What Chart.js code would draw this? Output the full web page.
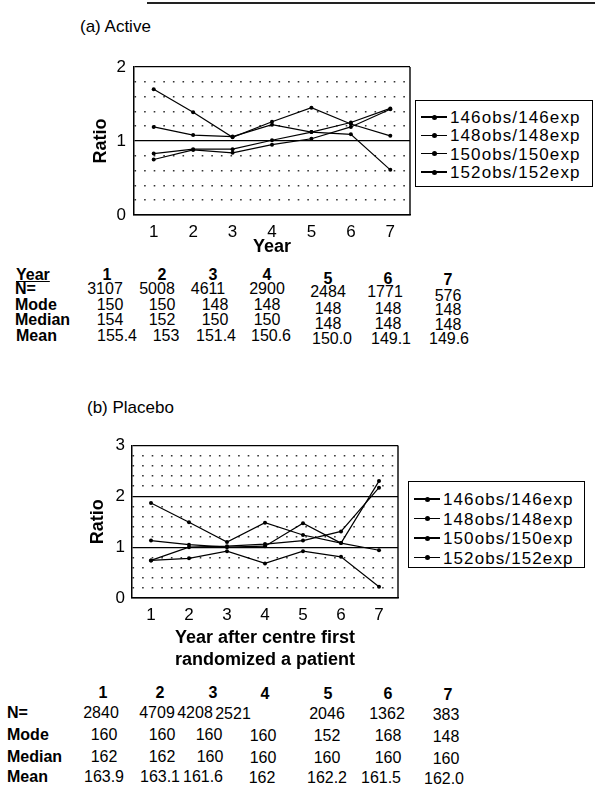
<!DOCTYPE html>
<html>
<head>
<meta charset="utf-8">
<script src="https://cdn.jsdelivr.net/npm/chart.js@4.4.1/dist/chart.umd.min.js"></script>
<style>
  html, body { margin: 0; padding: 0; }
  body { width: 595px; height: 799px; position: relative; background: #fff; overflow: hidden;
         font-family: "Liberation Sans", Arial, Helvetica, sans-serif; color: #000; }
  .t { position: absolute; white-space: nowrap; line-height: 1; }
  canvas { position: absolute; }
  .leg { position: absolute; border: 1.3px solid #000; box-sizing: border-box; background: #fff; }
  .legtxt { position: absolute; white-space: nowrap; line-height: 1; font-size: 17px; letter-spacing: 1.1px; transform: translateY(-50%); }
  .legline { position: absolute; height: 1.4px; background: #000; }
  .legdot { position: absolute; width: 5px; height: 5px; border-radius: 50%; background: #000; }
</style>
</head>
<body>
<div style="position:absolute;left:147px;top:2px;width:448px;height:2px;background:#222"></div>
<div class="t" style="left:80px;top:26px;font-size:17px;transform:translateY(-50%)">(a) Active</div>
<div class="t" style="left:87px;top:407px;font-size:17px;transform:translateY(-50%)">(b) Placebo</div>
<canvas id="chartA" width="360" height="210" style="left:60px;top:50px"></canvas>
<canvas id="chartB" width="350" height="241" style="left:60px;top:430px"></canvas>
<div id="legA" class="leg" style="left:415px;top:100px;width:178px;height:87px"></div>
<div id="legB" class="leg" style="left:408px;top:481px;width:177px;height:87px"></div>
<div id="tables"></div>
<script>
// ---------------- DATA ----------------
const years = ['1', '2', '3', '4', '5', '6', '7'];
const seriesNames = ['146obs/146exp', '148obs/148exp', '150obs/150exp', '152obs/152exp'];

// (a) Active : ratio observed / expected
const active146 = [1.70, 1.39, 1.05, 1.26, 1.45, 1.23, 1.07];
const active148 = [1.19, 1.08, 1.06, 1.22, 1.12, 1.09, 0.61];
const active150 = [0.83, 0.89, 0.89, 1.01, 1.12, 1.25, 1.44];
const active152 = [0.75, 0.88, 0.84, 0.95, 1.03, 1.19, 1.43];

// (b) Placebo
const placebo146 = [1.87, 1.49, 1.10, 1.48, 1.24, 1.08, 0.94];
const placebo148 = [1.13, 1.05, 1.00, 1.02, 1.47, 1.08, 2.30];
const placebo150 = [0.74, 1.00, 1.02, 1.06, 1.13, 1.31, 2.17];
const placebo152 = [0.74, 0.78, 0.92, 0.68, 0.92, 0.81, 0.22];

const yTicksA = [0, 1, 2];
const yTicksB = [0, 1, 2, 3];

// Tables
const activeN      = ['3107', '5008', '4611', '2900', '2484', '1771', '576'];
const activeMode   = ['150', '150', '148', '148', '148', '148', '148'];
const activeMedian = ['154', '152', '150', '150', '148', '148', '148'];
const activeMean   = ['155.4', '153', '151.4', '150.6', '150.0', '149.1', '149.6'];

const placeboN      = ['2840', '4709', '4208', '2521', '2046', '1362', '383'];
const placeboMode   = ['160', '160', '160', '160', '152', '168', '148'];
const placeboMedian = ['162', '162', '160', '160', '160', '160', '160'];
const placeboMean   = ['163.9', '163.1', '161.6', '162', '162.2', '161.5', '162.0'];

// ---------------- TABLE LAYOUT ----------------
const FONT = '"Liberation Sans", Arial, Helvetica, sans-serif';
function txt(s, x, y, opts) {
  const d = document.createElement('div');
  d.className = 't';
  d.textContent = s;
  d.style.left = x + 'px';
  d.style.top = y + 'px';
  d.style.fontSize = (opts.size || 16) + 'px';
  if (opts.bold) d.style.fontWeight = 'bold';
  if (opts.underline) d.style.textDecoration = 'underline';
  d.style.transform = (opts.center ? 'translateX(-50%) ' : '') + 'translateY(-50%)';
  document.getElementById('tables').appendChild(d);
}
function row(label, lx, ly, values, xs, ys, bold, underline) {
  if (label) txt(label, lx, ly, { bold: true, underline: underline });
  values.forEach((v, i) => txt(v, xs[i], ys[i], { center: true, bold: bold }));
}
function ysOf(base, shift) { return shift.map(s => base + s); }
const shiftA = [0, 0, 0, 0, 4, 4, 5];
row('Year', 16, 275, years, [107, 162, 213, 267, 328, 388, 448], ysOf(275, shiftA), true, true);
row('N=', 15, 289, activeN, [105, 157, 208, 267, 328, 385, 448], ysOf(289, [0, 0, 0, 0, 3, 3, 7]), false);
row('Mode', 15, 305, activeMode, [110, 162, 215, 267, 328, 388, 448], ysOf(305, shiftA), false);
row('Median', 15, 320, activeMedian, [110, 162, 215, 267, 328, 388, 448], ysOf(320, shiftA), false);
row('Mean', 16, 336, activeMean, [117, 166, 216, 271, 332, 391, 449], ysOf(336, [0, 0, 0, 0, 3, 3, 3]), false);

const shiftB = [0, 0, 0, 1, 1, 1, 2];
row(null, 0, 693, years, [103, 160, 213, 265, 328, 388, 448], ysOf(693, shiftB), true);
row('N=', 7, 713, placeboN, [101, 157, 195, 233, 327, 387, 446], ysOf(713, shiftB), false);
row('Mode', 7, 735, placeboMode, [104, 162, 209, 263, 327, 388, 446], ysOf(735, shiftB), false);
row('Median', 7, 757, placeboMedian, [104, 162, 210, 263, 327, 388, 446], ysOf(757, shiftB), false);
row('Mean', 7, 777, placeboMean, [104, 160, 203, 262, 327, 381, 444], ysOf(777, shiftB), false);

// ---------------- LEGENDS ----------------
function legend(id, ys, textLeft) {
  const box = document.getElementById(id);
  seriesNames.forEach((name, i) => {
    const l = document.createElement('div');
    l.className = 'legline';
    l.style.left = '5px'; l.style.width = '26px'; l.style.top = (ys[i] - 0.7) + 'px';
    box.appendChild(l);
    const dt = document.createElement('div');
    dt.className = 'legdot';
    dt.style.left = '15.5px'; dt.style.top = (ys[i] - 2.5) + 'px';
    box.appendChild(dt);
    const t = document.createElement('div');
    t.className = 'legtxt';
    t.textContent = name;
    t.style.left = textLeft + 'px'; t.style.top = ys[i] + 'px';
    box.appendChild(t);
  });
}
legend('legA', [16, 34.3, 52.6, 71], 34);
legend('legB', [17, 36.5, 56, 75.5], 34);

// ---------------- CHARTS ----------------
function isInt(v) { return Math.abs(v - Math.round(v)) < 1e-6; }

const boxPlugin = {
  id: 'plotBox',
  beforeDatasetsDraw(chart) {
    const { ctx, chartArea: a } = chart;
    ctx.save();
    ctx.strokeStyle = '#000';
    ctx.lineWidth = 1.4;
    ctx.beginPath();
    ctx.moveTo(a.right, a.top);
    ctx.lineTo(a.right, a.bottom);
    ctx.stroke();
    ctx.restore();
  }
};

function makeChart(id, series, yTicks, g) {
  const yMax = yTicks[yTicks.length - 1];
  return new Chart(document.getElementById(id), {
    type: 'line',
    data: {
      labels: years,
      datasets: series.map((d, i) => ({
        label: seriesNames[i],
        data: d,
        borderColor: '#000',
        backgroundColor: '#000',
        borderWidth: 1.2,
        pointRadius: 2,
        pointBorderWidth: 0,
        pointBackgroundColor: '#000',
        tension: 0,
        fill: false
      }))
    },
    options: {
      responsive: false,
      animation: false,
      devicePixelRatio: 1,
      layout: { padding: { top: g.pt, right: g.pr, left: 0, bottom: 0 } },
      plugins: { legend: { display: false }, tooltip: { enabled: false } },
      scales: {
        x: {
          type: 'category',
          offset: true,
          grid: { display: false, drawTicks: false },
          border: { display: true, color: '#000', width: 1.5 },
          ticks: { color: '#000', padding: g.tp, autoSkip: false, maxRotation: 0,
                   font: { family: FONT, size: 17, lineHeight: 1 } },
          title: { display: true, text: g.xTitle, color: '#000',
                   font: { family: FONT, size: 18, weight: 'bold', lineHeight: 1.222 },
                   padding: { top: 0, bottom: g.xtpb } },
          afterFit(s) { s.height = g.xh; }
        },
        y: {
          min: 0, max: yMax,
          ticks: {
            stepSize: 0.2, autoSkip: false, color: '#000', padding: g.yp,
            font: { family: FONT, size: 17, lineHeight: 1 },
            callback: (v) => {
              const r = Math.round(v);
              return isInt(v) && yTicks.includes(r) ? String(r) : '';
            }
          },
          grid: {
            drawTicks: false,
            color: (c) => (c.tick && isInt(c.tick.value)) ? '#000' : '#333',
            lineWidth: (c) => (c.tick && isInt(c.tick.value)) ? 1.3 : 1.6
          },
          border: {
            display: true, color: '#000', width: 1.5,
            dash: (c) => (c.tick && !isInt(c.tick.value)) ? [1.6, 8] : []
          },
          title: { display: true, text: 'Ratio', color: '#000',
                   font: { family: FONT, size: 18, weight: 'bold', lineHeight: 1.222 },
                   padding: { top: g.ytpt, bottom: 0 } },
          afterFit(s) { s.width = g.yw; }
        }
      }
    },
    plugins: [boxPlugin]
  });
}

makeChart('chartA', [active146, active148, active150, active152], yTicksA,
  { pt: 17, pr: 10, xh: 45, yw: 74, tp: 9, xtpb: 2, yp: 8, ytpt: 30, xTitle: 'Year' });
makeChart('chartB', [placebo146, placebo148, placebo150, placebo152], yTicksB,
  { pt: 13, pr: 12, xh: 73, yw: 72, tp: 9, xtpb: 0, yp: 7, ytpt: 27.5,
    xTitle: ['Year after centre first', 'randomized a patient'] });
</script>
</body>
</html>
